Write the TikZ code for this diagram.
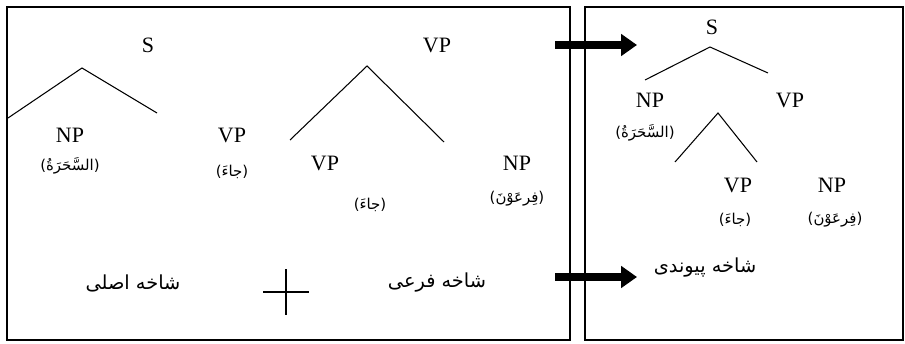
\documentclass[tikz,border=0pt]{standalone}
\usepackage{fontspec}
\setmainfont{Liberation Serif}
\newfontfamily\arabicfont[Script=Arabic]{DejaVu Sans}
\TeXXeTstate=1
\usetikzlibrary{arrows.meta,calc}

\begin{document}
\begin{tikzpicture}[x=0.02cm, y=-0.02cm,
  cat/.style={font=\fontsize{12.5}{14}\selectfont, inner sep=1pt},
  word/.style={font=\arabicfont\fontsize{8.5}{10}\selectfont, inner sep=1pt},
  capt/.style={font=\arabicfont\fontsize{11}{13}\selectfont, inner sep=1pt},
  branch/.style={line width=0.6pt},
  panel/.style={draw, line width=0.8pt},
  arr/.style={line width=5pt, -{Triangle[length=9pt, width=12pt]}}
]
\useasboundingbox (0,0) rectangle (905,344);

\draw[panel] (7,7) rectangle (570,340);
\draw[panel] (585,7) rectangle (903,340);

% left panel
\node[cat] (s1) at (148,45) {S};
\node[cat] (vp1) at (437,45) {VP};
\coordinate (s1top) at (82,68);
\coordinate (s1l) at (8,118);
\coordinate (s1r) at (157,113);
\draw[branch] (s1l) -- (s1top) -- (s1r);
\coordinate (vp1top) at (367,66);
\coordinate (vp1l) at (290,140);
\coordinate (vp1r) at (444,142);
\draw[branch] (vp1l) -- (vp1top) -- (vp1r);

\node[cat] (np2) at (70,135) {NP};
\node[word] (w2) at (70,166) {\beginR(السَّحَرَةُ)\endR};
\node[cat] (vp2) at (232,135) {VP};
\node[word] (w3) at (232,172) {\beginR(جاءَ)\endR};
\node[cat] (vp3) at (325,163) {VP};
\node[word] (w4) at (370,205) {\beginR(جاءَ)\endR};
\node[cat] (np3) at (517,163) {NP};
\node[word] (w5) at (517,199) {\beginR(فِرعَوْنَ)\endR};

\node[capt] (main) at (133,283) {\beginR شاخه اصلی\endR};
\node[capt] (sub) at (437,283) {\beginR شاخه فرعی\endR};
\coordinate (plus) at (286,292);
\draw[line width=1.3pt] ($(plus)+(-23,0)$) -- ($(plus)+(23,0)$);
\draw[line width=1.3pt] ($(plus)+(0,-23)$) -- ($(plus)+(0,23)$);

% arrows
\coordinate (a1) at (555,45);
\coordinate (b1) at (637,45);
\coordinate (a2) at (555,277);
\coordinate (b2) at (637,277);
\draw[arr] (a1) -- (b1);
\draw[arr] (a2) -- (b2);

% right panel
\node[cat] (s4) at (712,27) {S};
\coordinate (s4top) at (710,47);
\coordinate (s4l) at (645,80);
\coordinate (s4r) at (768,73);
\draw[branch] (s4l) -- (s4top) -- (s4r);
\node[cat] (np4) at (650,100) {NP};
\node[word] (w6) at (645,133) {\beginR(السَّحَرَةُ)\endR};
\node[cat] (vp4) at (790,100) {VP};
\coordinate (vp4top) at (718,113);
\coordinate (vp4l) at (675,162);
\coordinate (vp4r) at (757,162);
\draw[branch] (vp4l) -- (vp4top) -- (vp4r);
\node[cat] (vp5) at (738,185) {VP};
\node[word] (w7) at (735,220) {\beginR(جاءَ)\endR};
\node[cat] (np5) at (832,185) {NP};
\node[word] (w8) at (835,220) {\beginR(فِرعَوْنَ)\endR};
\node[capt] (link) at (705,268) {\beginR شاخه پیوندی\endR};
\end{tikzpicture}
\end{document}
